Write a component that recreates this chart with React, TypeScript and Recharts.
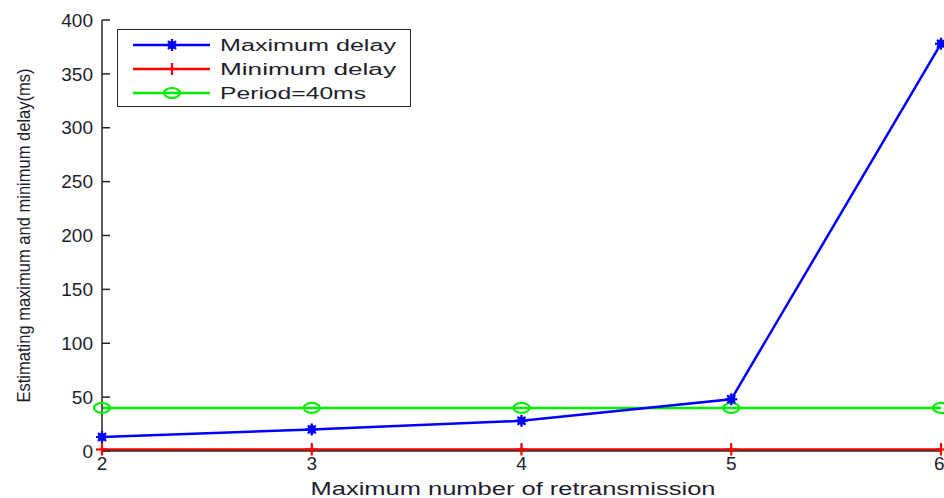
import { Legend, Line, LineChart, XAxis, YAxis, Label } from "recharts";

const retransmissions = [2, 3, 4, 5, 6];
const maxDelay = [13, 20, 28, 48, 378];
const minDelay = [1.4, 1.4, 1.4, 1.4, 1.4];
const period = [40, 40, 40, 40, 40];
const yTicks = [0, 50, 100, 150, 200, 250, 300, 350, 400];

const rows = retransmissions.map((x, i) => ({
  x,
  max: maxDelay[i],
  min: minDelay[i],
  period: period[i],
}));

const FRAME = "#262626";
const TEXT = "#1e1e2e";
const FONT = "'Liberation Sans', Arial, sans-serif";

const StarDot = (props: any) => {
  const { cx, cy, key } = props;
  if (cx == null || cy == null) return <g key={key} />;
  return (
    <g key={key} stroke="#0000ff" strokeWidth={2.2}>
      <line x1={cx - 6} y1={cy} x2={cx + 6} y2={cy} />
      <line x1={cx} y1={cy - 6} x2={cx} y2={cy + 6} />
      <line x1={cx - 4} y1={cy - 4} x2={cx + 4} y2={cy + 4} />
      <line x1={cx - 4} y1={cy + 4} x2={cx + 4} y2={cy - 4} />
      <circle cx={cx} cy={cy} r={3} fill="#0000ff" />
    </g>
  );
};

const PlusDot = (props: any) => {
  const { cx, cy, key } = props;
  if (cx == null || cy == null) return <g key={key} />;
  return (
    <g key={key} stroke="#ff0000" strokeWidth={2.2}>
      <line x1={cx - 6} y1={cy} x2={cx + 6} y2={cy} />
      <line x1={cx} y1={cy - 6} x2={cx} y2={cy + 6} />
    </g>
  );
};

const RingDot = (props: any) => {
  const { cx, cy, key } = props;
  if (cx == null || cy == null) return <g key={key} />;
  return (
    <ellipse key={key} cx={cx} cy={cy} rx={8} ry={5} fill="none" stroke="#00ee00" strokeWidth={2.2} />
  );
};

const legendItems = [
  { label: "Maximum delay", color: "#0000ff", Dot: StarDot },
  { label: "Minimum delay", color: "#ff0000", Dot: PlusDot },
  { label: "Period=40ms", color: "#00ee00", Dot: RingDot },
];

const LegendBox = () => (
  <div style={{ border: `1.5px solid ${FRAME}`, background: "#fff", width: 292, height: 76 }}>
    <svg width={292} height={76}>
      {legendItems.map((item, i) => {
        const y = 15 + i * 24;
        return (
          <g key={item.label}>
            <line x1={15} y1={y} x2={92} y2={y} stroke={item.color} strokeWidth={2.5} />
            <item.Dot cx={54} cy={y} key={`d${i}`} />
            <text
              x={102}
              y={y}
              dy="0.36em"
              fontSize={16}
              fontFamily={FONT}
              fill={TEXT}
              textLength={item.label === "Period=40ms" ? 146 : 176}
              lengthAdjust="spacingAndGlyphs"
            >
              {item.label}
            </text>
          </g>
        );
      })}
    </svg>
  </div>
);

export default function App() {
  return (
    <div style={{ position: "absolute", left: 0, top: 0, width: 944, height: 498, background: "#fff" }}>
      <LineChart width={944} height={498} data={rows} margin={{ top: 20, right: 3, bottom: 0, left: 0 }}>
        <XAxis
          dataKey="x"
          type="number"
          domain={[2, 6]}
          ticks={retransmissions}
          height={47}
          tickSize={-8}
          tickMargin={14}
          axisLine={{ stroke: FRAME, strokeWidth: 1.5 }}
          tickLine={{ stroke: FRAME, strokeWidth: 1.5 }}
          tick={{ fontSize: 19, fontFamily: FONT, fill: TEXT }}
        >
          <Label
            content={() => (
              <text
                x={513}
                y={489}
                textAnchor="middle"
                dy="0.36em"
                fontSize={18}
                fontFamily={FONT}
                fill={TEXT}
                textLength={405}
                lengthAdjust="spacingAndGlyphs"
              >
                Maximum number of retransmission
              </text>
            )}
          />
        </XAxis>
        <XAxis
          xAxisId="top"
          dataKey="x"
          type="number"
          orientation="top"
          domain={[2, 6]}
          ticks={retransmissions}
          height={0}
          tickSize={-8}
          tick={false}
          axisLine={{ stroke: FRAME, strokeWidth: 1.5 }}
          tickLine={{ stroke: FRAME, strokeWidth: 1.5 }}
        />
        <YAxis
          type="number"
          domain={[0, 400]}
          ticks={yTicks}
          width={102}
          tickSize={-8}
          tickMargin={17}
          axisLine={{ stroke: FRAME, strokeWidth: 1.5 }}
          tickLine={{ stroke: FRAME, strokeWidth: 1.5 }}
          tick={{ fontSize: 19, fontFamily: FONT, fill: TEXT }}
        >
          <Label
            content={({ viewBox }: any) => {
              const cy = viewBox.y + viewBox.height / 2;
              return (
                <text
                  x={24}
                  y={cy}
                  transform={`rotate(-90, 24, ${cy})`}
                  textAnchor="middle"
                  dy="0.36em"
                  fontSize={18}
                  fontFamily={FONT}
                  fill={TEXT}
                  textLength={334}
                  lengthAdjust="spacingAndGlyphs"
                >
                  Estimating maximum and minimum delay(ms)
                </text>
              );
            }}
          />
        </YAxis>
        <YAxis
          yAxisId="right"
          type="number"
          orientation="right"
          domain={[0, 400]}
          ticks={yTicks}
          width={0}
          tickSize={-8}
          tick={false}
          axisLine={{ stroke: FRAME, strokeWidth: 1.5 }}
          tickLine={{ stroke: FRAME, strokeWidth: 1.5 }}
        />
        <Legend
          layout="horizontal"
          verticalAlign="middle"
          align="center"
          wrapperStyle={{ left: 117, top: 29, width: "auto" }}
          content={() => <LegendBox />}
        />
        <Line dataKey="min" stroke="#ff0000" strokeWidth={2.5} dot={PlusDot} isAnimationActive={false} />
        <Line dataKey="period" stroke="#00ee00" strokeWidth={2.5} dot={RingDot} isAnimationActive={false} />
        <Line dataKey="max" stroke="#0000ff" strokeWidth={2.5} dot={StarDot} isAnimationActive={false} />
      </LineChart>
    </div>
  );
}
